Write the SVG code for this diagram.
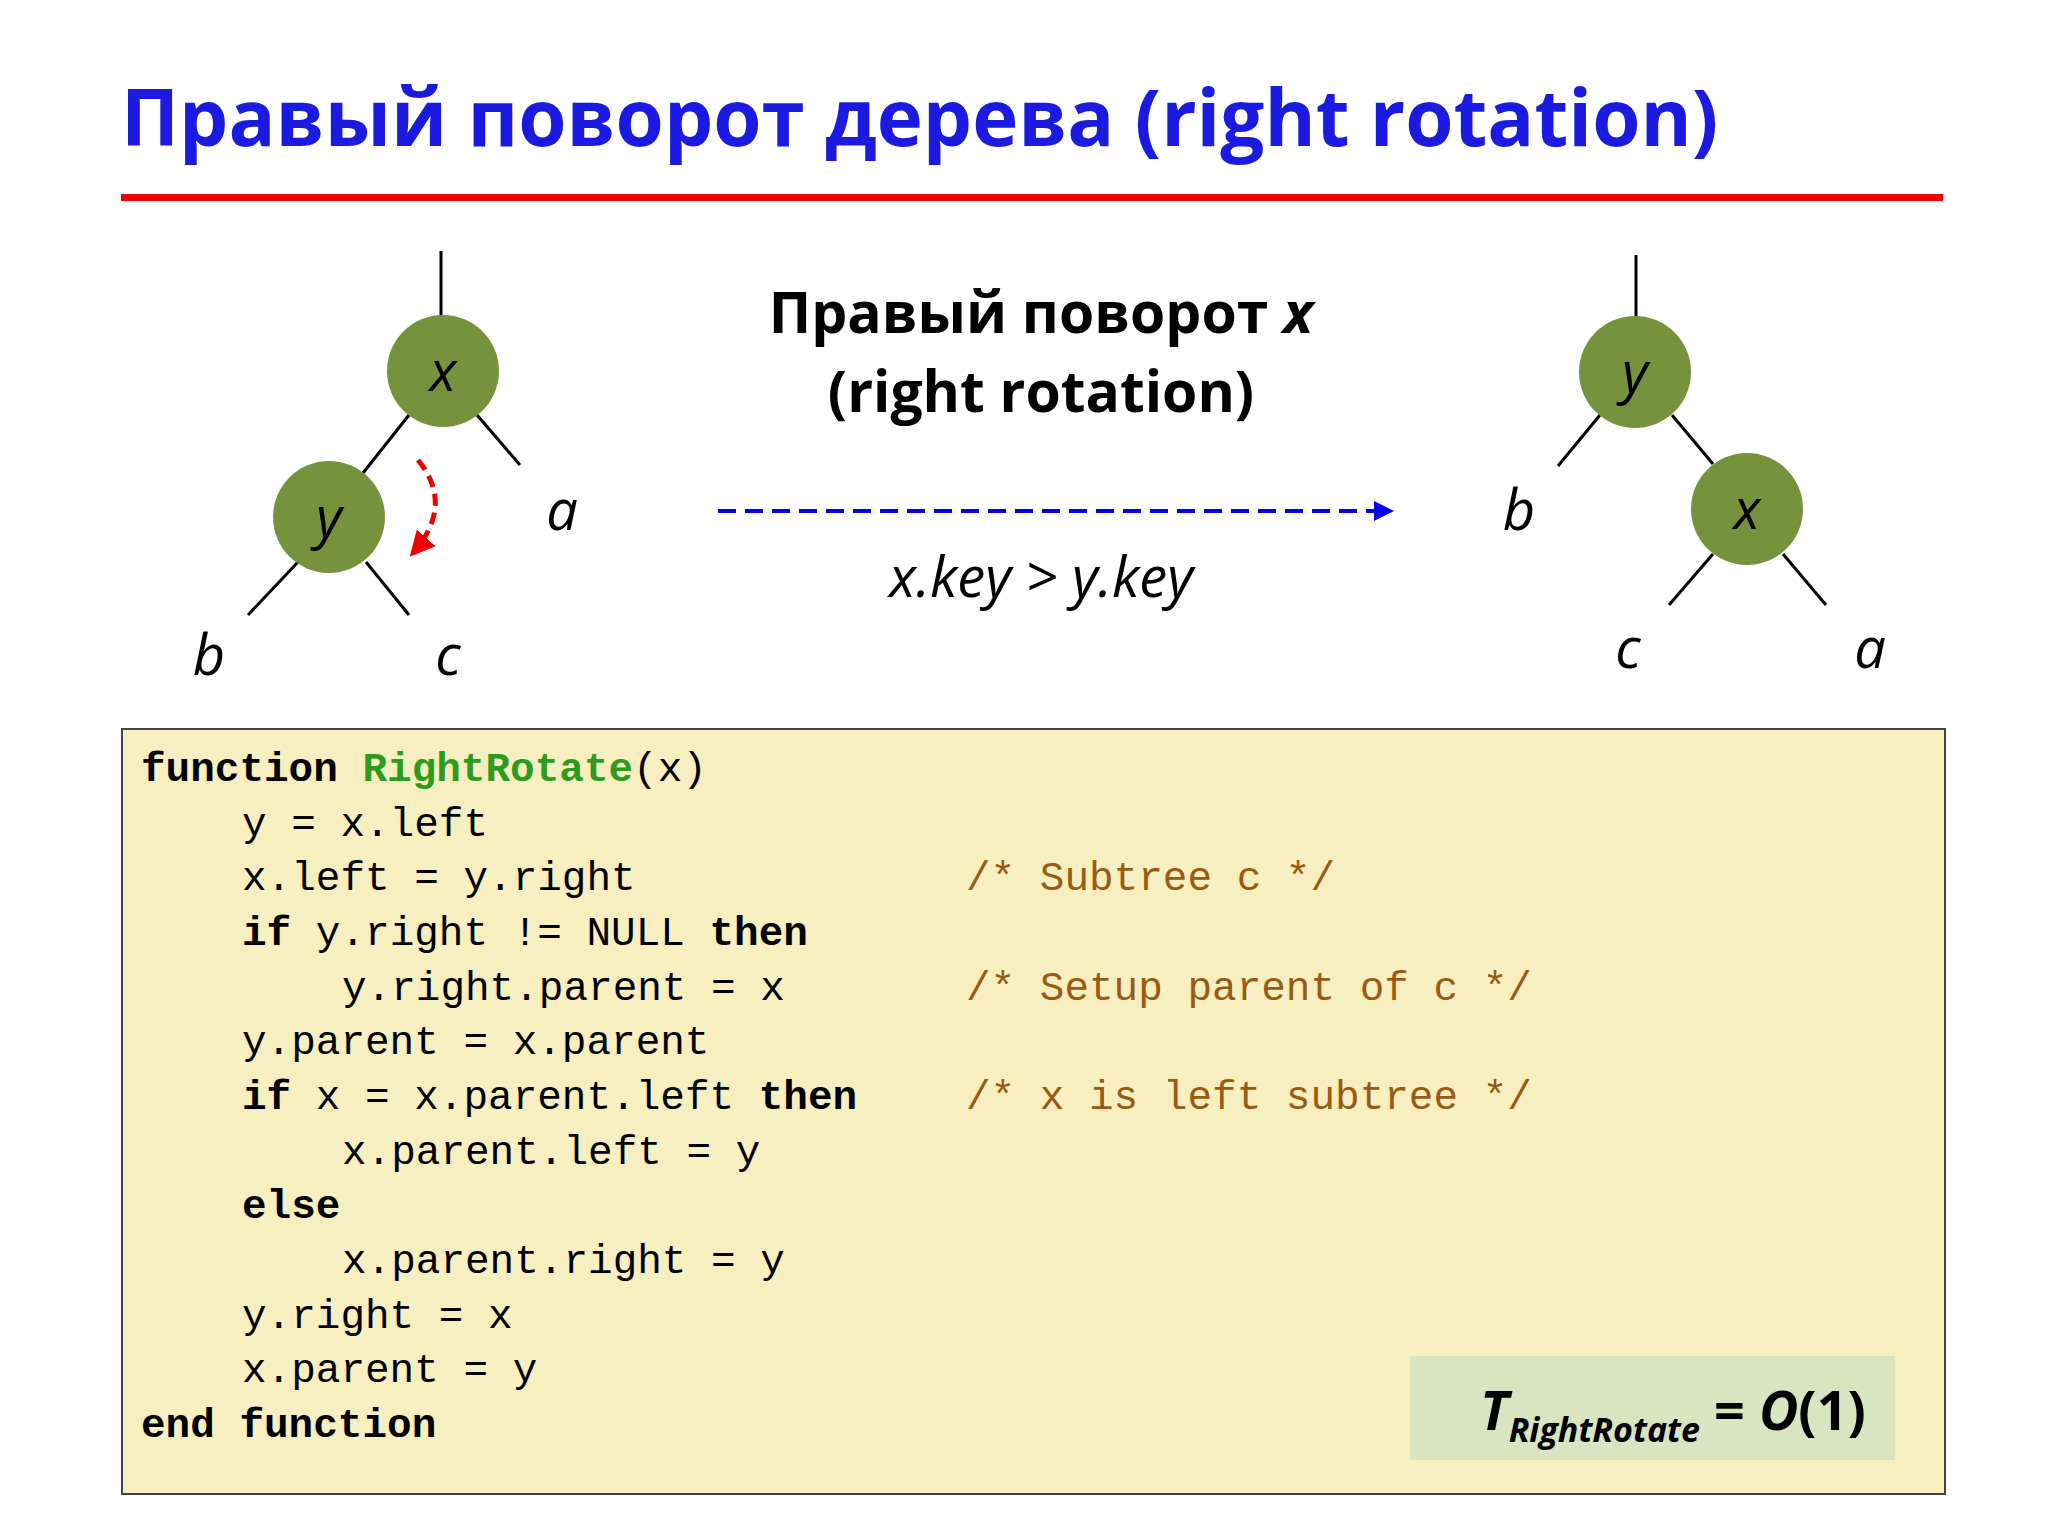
<svg xmlns="http://www.w3.org/2000/svg" width="2048" height="1536" viewBox="0 0 2048 1536">
<style>
.ln{stroke:#000;stroke-width:3;fill:none}
.nd{fill:#76923c}
.it{font-family:"Open Sans","Liberation Sans",sans-serif;font-style:italic;font-size:56px;fill:#000;text-anchor:middle}
.hd{font-family:"Open Sans","Liberation Sans",sans-serif;font-weight:bold;font-size:57px;fill:#000;text-anchor:middle}
.cd{font-family:"Liberation Mono",monospace;font-size:41px;fill:#000}
.b{font-weight:bold}
.cm{fill:#9a5a12}
</style>
<defs>
<marker id="ab" viewBox="0 0 10 10" refX="9" refY="5" markerWidth="5" markerHeight="5" orient="auto"><path d="M0,0L10,5L0,10z" fill="#0000ee"/></marker>
<marker id="ar" viewBox="0 0 10 10" refX="8" refY="5" markerWidth="5" markerHeight="5" orient="auto"><path d="M0,0L10,5L0,10z" fill="#ee0000"/></marker>
</defs>
<rect width="2048" height="1536" fill="#fff"/>
<text x="121" y="146" font-family="'Open Sans','Liberation Sans',sans-serif" font-weight="bold" font-size="78" fill="#1a1ae0">Правый поворот дерева (right rotation)</text>
<rect x="121" y="194" width="1822" height="7" fill="#ee0000"/>
<g id="connectors">
<line class="ln" x1="441" y1="251" x2="441" y2="316"/>
<line class="ln" x1="409" y1="415" x2="363" y2="473"/>
<line class="ln" x1="477" y1="415" x2="520" y2="465"/>
<line class="ln" x1="298" y1="562" x2="248" y2="615"/>
<line class="ln" x1="366" y1="562" x2="409" y2="615"/>
<path d="M418,460 Q455,505 413,553" stroke="#ee0000" stroke-width="5" stroke-dasharray="12,7" fill="none" marker-end="url(#ar)"/>
<line x1="718" y1="511" x2="1392" y2="511" stroke="#0000ee" stroke-width="4" stroke-dasharray="18,9" marker-end="url(#ab)"/>
<line class="ln" x1="1636" y1="255" x2="1636" y2="317"/>
<line class="ln" x1="1600" y1="415" x2="1558" y2="466"/>
<line class="ln" x1="1672" y1="415" x2="1713" y2="464"/>
<line class="ln" x1="1713" y1="554" x2="1669" y2="605"/>
<line class="ln" x1="1783" y1="554" x2="1826" y2="605"/>
</g>
<g id="lx"><circle class="nd" cx="443" cy="371" r="56"/><text class="it" x="443" y="391">x</text></g>
<g id="ly"><circle class="nd" cx="329" cy="517" r="56"/><text class="it" x="329" y="537">y</text></g>
<g id="la"><text class="it" x="562" y="530">a</text></g>
<g id="lb"><text class="it" x="209" y="675">b</text></g>
<g id="lc"><text class="it" x="448" y="675">c</text></g>
<g id="ry"><circle class="nd" cx="1635" cy="372" r="56"/><text class="it" x="1635" y="392">y</text></g>
<g id="rx"><circle class="nd" cx="1747" cy="509" r="56"/><text class="it" x="1747" y="529">x</text></g>
<g id="rb"><text class="it" x="1519" y="530">b</text></g>
<g id="rc"><text class="it" x="1628" y="668">c</text></g>
<g id="ra"><text class="it" x="1870" y="668">a</text></g>
<g id="mid">
<text class="hd" x="1041" y="333">Правый поворот <tspan font-style="italic">x</tspan></text>
<text class="hd" x="1041" y="412">(right rotation)</text>
<text class="it" x="1041" y="597" font-size="44">x.key  &gt;  y.key</text>
</g>
<g id="code">
<rect x="122" y="729" width="1823" height="765" fill="#f7efc0" stroke="#444" stroke-width="2"/>
<text class="cd" x="141" y="781"><tspan class="b">function</tspan> <tspan fill="#2e9a1e" font-weight="bold">RightRotate</tspan>(x)</text>
<text class="cd" x="242" y="836">y = x.left</text>
<text class="cd" x="242" y="890">x.left = y.right</text>
<text class="cd cm" x="966" y="890">/* Subtree c */</text>
<text class="cd" x="242" y="945"><tspan class="b">if</tspan> y.right != NULL <tspan class="b">then</tspan></text>
<text class="cd" x="342" y="1000">y.right.parent = x</text>
<text class="cd cm" x="966" y="1000">/* Setup parent of c */</text>
<text class="cd" x="242" y="1054">y.parent = x.parent</text>
<text class="cd" x="242" y="1109"><tspan class="b">if</tspan> x = x.parent.left <tspan class="b">then</tspan></text>
<text class="cd cm" x="966" y="1109">/* x is left subtree */</text>
<text class="cd" x="342" y="1164">x.parent.left = y</text>
<text class="cd b" x="242" y="1218">else</text>
<text class="cd" x="342" y="1273">x.parent.right = y</text>
<text class="cd" x="242" y="1328">y.right = x</text>
<text class="cd" x="242" y="1382">x.parent = y</text>
<text class="cd b" x="141" y="1437">end function</text>
</g>
<g id="complexity">
<rect x="1410" y="1356" width="485" height="104" fill="#d9e4c0"/>
<text x="1480" y="1430" font-family="'Open Sans','Liberation Sans',sans-serif" font-weight="bold" font-style="italic" font-size="54" fill="#000">T<tspan font-size="34" dy="12">RightRotate</tspan><tspan dy="-12" font-style="normal"> = </tspan>O<tspan font-style="normal">(1)</tspan></text>
</g>
</svg>
